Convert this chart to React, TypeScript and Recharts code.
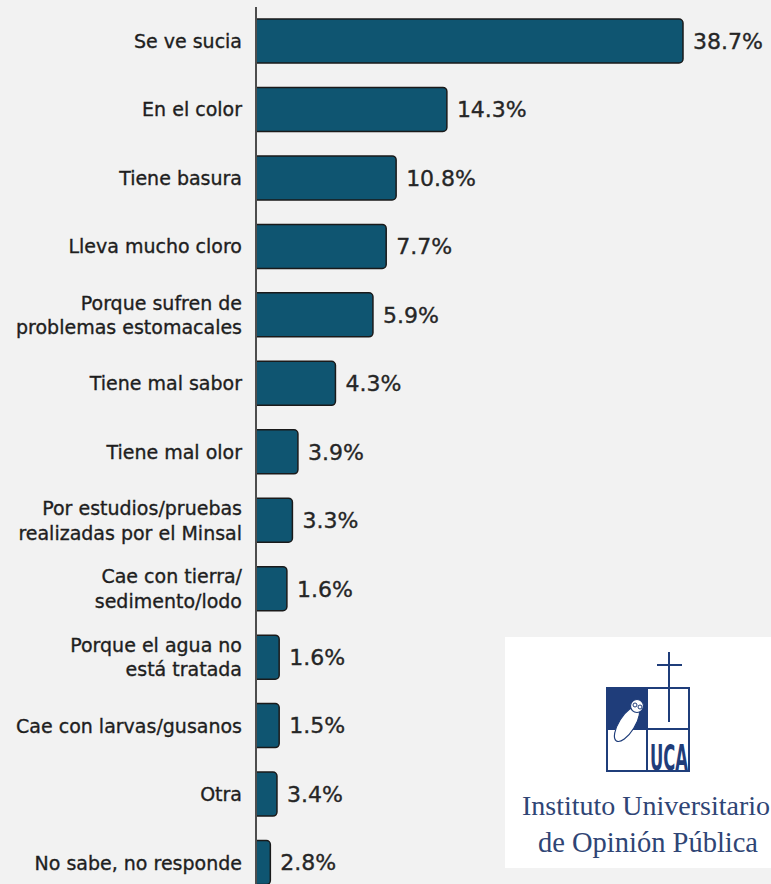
import React from "react";
import { BarChart, Bar, XAxis, YAxis, LabelList } from "recharts";

// Categorías (con salto de línea donde el original parte la etiqueta)
const categories = [
  "Se ve sucia",
  "En el color",
  "Tiene basura",
  "Lleva mucho cloro",
  "Porque sufren de\nproblemas estomacales",
  "Tiene mal sabor",
  "Tiene mal olor",
  "Por estudios/pruebas\nrealizadas por el Minsal",
  "Cae con tierra/\nsedimento/lodo",
  "Porque el agua no\nestá tratada",
  "Cae con larvas/gusanos",
  "Otra",
  "No sabe, no responde",
];

// Porcentajes rotulados
const pct = [38.7, 14.3, 10.8, 7.7, 5.9, 4.3, 3.9, 3.3, 1.6, 1.6, 1.5, 3.4, 2.8];

// Largo de barra tal como está dibujado en el original (no va a escala con los rótulos)
const barLength = [38.7, 17.3, 12.7, 11.8, 10.6, 7.2, 3.8, 3.3, 2.8, 2.1, 2.1, 1.9, 1.3];

const data = categories.map((name, i) => ({
  name,
  pct: pct[i],
  len: barLength[i],
}));

const FONT = "'DejaVu Sans', Verdana, sans-serif";

function CategoryTick(props: any) {
  const { x, y, payload } = props;
  const lines = String(payload.value).split("\n");
  const lh = 24.5;
  const start = -((lines.length - 1) * lh) / 2;
  return (
    <text
      x={x}
      y={y}
      textAnchor="end"
      fill="#1e1e1e"
      stroke="#1e1e1e"
      strokeWidth={0.35}
      fontSize={19}
      fontFamily={FONT}
    >
      {lines.map((ln, i) => (
        <tspan key={i} x={x} dy={i === 0 ? start + 6.8 : lh}>
          {ln}
        </tspan>
      ))}
    </text>
  );
}

function Logo() {
  const navy = "#1f3d7a";
  return (
    <svg
      width={771}
      height={884}
      style={{ position: "absolute", left: 0, top: 0, pointerEvents: "none" }}
    >
      <rect x={505} y={637} width={266} height={231} fill="#ffffff" />
      {/* escudo */}
      <rect x={647} y={688} width={42} height={41} fill="none" stroke={navy} strokeWidth={2} />
      <rect x={607} y={688} width={40} height={41} fill={navy} stroke={navy} strokeWidth={2} />
      <rect x={607} y={729} width={40} height={42} fill="none" stroke={navy} strokeWidth={2} />
      <rect x={647} y={729} width={42} height={42} fill="none" stroke={navy} strokeWidth={2} />
      <line x1={669} y1={652} x2={669} y2={722} stroke={navy} strokeWidth={2} />
      <line x1={657} y1={665} x2={682} y2={665} stroke={navy} strokeWidth={2} />
      {/* búho */}
      <ellipse
        cx={627}
        cy={724}
        rx={8}
        ry={20}
        transform="rotate(32 627 724)"
        fill="#ffffff"
        stroke={navy}
        strokeWidth={1.2}
      />
      <circle cx={637} cy={706} r={6.5} fill="#ffffff" stroke={navy} strokeWidth={1.2} />
      <circle cx={635} cy={705} r={2} fill="none" stroke={navy} strokeWidth={1} />
      <circle cx={640} cy={707} r={2} fill="none" stroke={navy} strokeWidth={1} />
      <text
        x={650}
        y={770}
        fill={navy}
        fontSize={36}
        fontWeight="bold"
        fontFamily="'Liberation Sans Narrow', 'DejaVu Sans Condensed', sans-serif"
        textLength={38}
        lengthAdjust="spacingAndGlyphs"
      >
        UCA
      </text>
      <text
        x={646}
        y={815}
        textAnchor="middle"
        fill="#2f4575"
        fontSize={28}
        fontFamily="'Liberation Serif', 'DejaVu Serif', serif"
      >
        Instituto Universitario
      </text>
      <text
        x={648}
        y={852}
        textAnchor="middle"
        fill="#2f4575"
        fontSize={28.5}
        fontFamily="'Liberation Serif', 'DejaVu Serif', serif"
      >
        de Opinión Pública
      </text>
    </svg>
  );
}

export default function App() {
  return (
    <div
      style={{
        position: "absolute",
        left: 0,
        top: 0,
        width: 771,
        height: 884,
        overflow: "hidden",
        background: "#f2f2f2",
      }}
    >
      <BarChart
        width={771}
        height={902}
        data={data}
        layout="vertical"
        margin={{ top: 7, right: 88, bottom: 5, left: 0 }}
      >
        <XAxis type="number" dataKey="len" domain={[0, 38.7]} hide />
        <YAxis
          type="category"
          dataKey="name"
          width={256}
          tickLine={false}
          tickSize={0}
          tickMargin={14}
          axisLine={{ stroke: "#4d4d4d", strokeWidth: 2 }}
          tick={<CategoryTick />}
          interval={0}
        />
        <Bar
          dataKey="len"
          fill="#0f5571"
          stroke="#1a1a1a"
          strokeWidth={1.5}
          barSize={44}
          radius={[0, 4, 4, 0]}
          isAnimationActive={false}
        >
          <LabelList
            dataKey="pct"
            position="right"
            offset={10}
            formatter={(v: any) => `${Number(v).toFixed(1)}%`}
            fill="#262626"
            stroke="#262626"
            strokeWidth={0.35}
            fontSize={22}
            fontFamily={FONT}
          />
        </Bar>
      </BarChart>
      <Logo />
    </div>
  );
}
